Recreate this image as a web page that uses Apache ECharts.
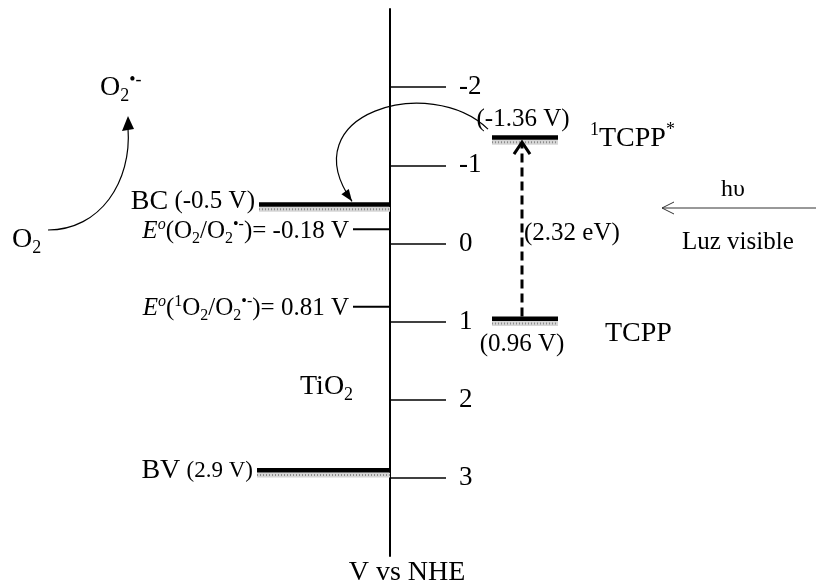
<!DOCTYPE html>
<html><head><meta charset="utf-8">
<script src="https://cdn.jsdelivr.net/npm/echarts@6/dist/echarts.min.js"></script>
<style>html,body{margin:0;padding:0;background:#fff}#c{width:816px;height:587px}</style>
</head><body><div id="c"></div>
<script>
// ---- data ----
const tickValues = [-2, -1, 0, 1, 2, 3];
const levelNames = ['BC', 'E°(O2/O2•-)', 'E°(1O2/O2•-)', 'BV', '1TCPP*', 'TCPP'];
const levelValues = [-0.5, -0.18, 0.81, 2.9, -1.36, 0.96];
const axisTitle = 'V vs NHE';
const lightLabel = ['hυ', 'Luz visible'];
const FF = 'Liberation Serif';

// ---- layout (pixels relative to the axis line; not data) ----
const levelLayout = [
  {x0: -131, x1: 0, thick: true},
  {x0: -37, x1: 0, thick: false},
  {x0: -37, x1: 0, thick: false},
  {x0: -133, x1: 0, thick: true},
  {x0: 102, x1: 168, thick: true},
  {x0: 102, x1: 168, thick: true}
];

function richSet() {
  return {
    b: {fontFamily: FF, fontSize: 28, lineHeight: 34, fill: '#000'},
    m: {fontFamily: FF, fontSize: 25, lineHeight: 30, fill: '#000'},
    s: {fontFamily: FF, fontSize: 23, lineHeight: 30, fill: '#000'},
    i: {fontFamily: FF, fontSize: 25, lineHeight: 30, fontStyle: 'italic', fill: '#000'},
    sub: {fontFamily: FF, fontSize: 16, lineHeight: 16, verticalAlign: 'bottom', fill: '#000'},
    sup: {fontFamily: FF, fontSize: 16, lineHeight: 16, verticalAlign: 'top', fill: '#000'},
    isup: {fontFamily: FF, fontSize: 16, lineHeight: 16, verticalAlign: 'top', fontStyle: 'italic', fill: '#000'},
    bsub: {fontFamily: FF, fontSize: 18, lineHeight: 18, verticalAlign: 'bottom', fill: '#000'},
    bsup: {fontFamily: FF, fontSize: 18, lineHeight: 18, verticalAlign: 'top', fill: '#000'}
  };
}
const RICH = richSet();

function txt(text, x, y, align, vAlign) {
  return {type: 'text', style: {text: text, rich: RICH, x: x, y: y, align: align, verticalAlign: vAlign || 'middle',
    textAlign: align, textVerticalAlign: vAlign || 'middle', fill: '#000', font: '25px ' + FF}};
}

function levelItem(params, api) {
  const i = api.value(2);
  const v = api.value(1);
  const L = levelLayout[i];
  const p0 = api.coord([L.x0, v]);
  const p1 = api.coord([L.x1, v]);
  const y = p0[1];
  const w = p1[0] - p0[0];
  const ch = [];
  if (L.thick) {
    ch.push({type: 'rect', shape: {x: p0[0], y: y + 2.5, width: w, height: 5}, style: {fill: '#d6d6d6'}});
    ch.push({type: 'line', shape: {x1: p0[0], y1: y + 5, x2: p1[0], y2: y + 5}, style: {stroke: '#8c8c8c', lineWidth: 2, lineDash: [1, 2]}});
    ch.push({type: 'rect', shape: {x: p0[0], y: y - 2, width: w, height: 4.5}, style: {fill: '#000'}});
  } else {
    ch.push({type: 'line', shape: {x1: p0[0], y1: y, x2: p1[0], y2: y}, style: {stroke: '#000', lineWidth: 2}});
  }
  const vs = String(levelValues[i]);
  const mid = (p0[0] + p1[0]) / 2;
  if (i === 0) {
    ch.push(txt('{b|BC} {m|(' + vs + ' V)}', p0[0] - 4, y - 3, 'right'));
  } else if (i === 1) {
    ch.push(txt('{i|E}{isup|o}{m|(O}{sub|2}{m|/O}{sub|2}{sup|•-}{m|)= ' + vs + ' V}', p0[0] - 4, y + 2, 'right'));
  } else if (i === 2) {
    ch.push(txt('{i|E}{isup|o}{m|(}{sup|1}{m|O}{sub|2}{m|/O}{sub|2}{sup|•-}{m|)= ' + vs + ' V}', p0[0] - 4, y + 2, 'right'));
  } else if (i === 3) {
    ch.push(txt('{b|BV} {s|(' + vs + ' V)}', p0[0] - 4, y + 1, 'right'));
  } else if (i === 4) {
    ch.push(txt('{m|(' + vs + ' V)}', mid - 2, y - 18, 'center'));
    ch.push(txt('{bsup|1}{b|TCPP}{bsup|*}', p1[0] + 32, y + 1, 'left'));
  } else if (i === 5) {
    ch.push(txt('{m|(' + vs + ' V)}', mid - 3, y + 26, 'center'));
    ch.push(txt('{b|TCPP}', p1[0] + 47, y + 15, 'left'));
  }
  return {type: 'group', children: ch};
}

function transitionItem(params, api) {
  const yS = api.coord([0, levelValues[4]])[1];
  const yT = api.coord([0, levelValues[5]])[1];
  const yB = api.coord([0, levelValues[0]])[1];
  const ax = api.coord([0, 0])[0];
  const xd = api.coord([132, 0])[0];
  const ch = [];
  // dashed excitation arrow
  ch.push({type: 'line', shape: {x1: xd, y1: yT - 2, x2: xd, y2: yS + 6}, style: {stroke: '#000', lineWidth: 3, lineDash: [9, 5]}});
  ch.push({type: 'polyline', shape: {points: [[xd - 8, yS + 17], [xd, yS + 5], [xd + 8, yS + 17]]}, style: {stroke: '#000', lineWidth: 3, fill: 'none'}});
  const gap = (levelValues[5] - levelValues[4]).toFixed(2);
  ch.push(txt('{m|(' + gap + ' eV)}', xd + 2, (yS + yT) / 2 + 6, 'left'));
  // curved electron transfer arrow TCPP* -> BC
  const P0 = [ax + 98, yS - 8], P1 = [ax + 40, yS - 64], P2 = [ax - 100, yS - 24], P3 = [ax - 38, yB - 3];
  ch.push({type: 'bezierCurve', shape: {x1: P0[0], y1: P0[1], cpx1: P1[0], cpy1: P1[1], cpx2: P2[0], cpy2: P2[1], x2: P3[0], y2: P3[1]},
    style: {stroke: '#000', lineWidth: 1.2, fill: 'none'}});
  let dx = P3[0] - P2[0], dy = P3[1] - P2[1];
  const n = Math.hypot(dx, dy); dx /= n; dy /= n;
  const bx = P3[0] - 12 * dx, by = P3[1] - 12 * dy;
  ch.push({type: 'polygon', shape: {points: [[P3[0], P3[1]], [bx - 4.5 * dy, by + 4.5 * dx], [bx + 4.5 * dy, by - 4.5 * dx]]}, style: {fill: '#000'}});
  return {type: 'group', children: ch};
}

const chart = echarts.init(document.getElementById('c'), null, {renderer: 'canvas'});
chart.setOption({
  backgroundColor: '#fff',
  animation: false,
  grid: {left: 390, right: 0, top: 9, bottom: 31, containLabel: false, outerBoundsMode: 'none'},
  xAxis: {type: 'value', min: 0, max: 426, show: false},
  yAxis: {
    type: 'value', inverse: true, min: -3, max: 4, position: 'left',
    axisLine: {show: true, onZero: false, lineStyle: {color: '#000', width: 2}},
    axisTick: {show: true, inside: true, length: 56, customValues: tickValues, lineStyle: {color: '#000', width: 1.6}},
    axisLabel: {show: true, inside: true, margin: 69, customValues: tickValues, color: '#000', fontFamily: FF, fontSize: 27},
    splitLine: {show: false},
    name: axisTitle, nameLocation: 'end', nameGap: 3,
    nameTextStyle: {fontFamily: FF, fontSize: 28, color: '#000', padding: [0, 0, 0, 34]}
  },
  series: [
    {type: 'custom', renderItem: levelItem, data: levelValues.map((v, i) => [0, v, i]), encode: {x: 0, y: 1}, clip: false, silent: true, z: 3},
    {type: 'custom', renderItem: transitionItem, data: [[0, 0]], encode: {x: 0, y: 1}, clip: false, silent: true, z: 4}
  ],
  graphic: [
    {type: 'text', x: 12, y: 240, style: {text: '{b|O}{bsub|2}', rich: RICH, align: 'left', verticalAlign: 'middle', textAlign: 'left', textVerticalAlign: 'middle'}},
    {type: 'text', x: 100, y: 88, style: {text: '{b|O}{bsub|2}{bsup|•-}', rich: RICH, align: 'left', verticalAlign: 'middle', textAlign: 'left', textVerticalAlign: 'middle'}},
    {type: 'text', x: 300, y: 387, style: {text: '{b|TiO}{bsub|2}', rich: RICH, align: 'left', verticalAlign: 'middle', textAlign: 'left', textVerticalAlign: 'middle'}},
    {type: 'text', x: 733, y: 190, style: {text: lightLabel[0], font: '24px ' + FF, fill: '#000', align: 'center', verticalAlign: 'middle', textAlign: 'center', textVerticalAlign: 'middle'}},
    {type: 'text', x: 682, y: 242, style: {text: lightLabel[1], font: '25px ' + FF, fill: '#000', align: 'left', verticalAlign: 'middle', textAlign: 'left', textVerticalAlign: 'middle'}},
    {type: 'line', shape: {x1: 816, y1: 208, x2: 662, y2: 208}, style: {stroke: '#333', lineWidth: 1}},
    {type: 'polyline', shape: {points: [[674, 202], [662, 208], [674, 214]]}, style: {stroke: '#333', lineWidth: 1, fill: 'none'}},
    {type: 'bezierCurve', shape: {x1: 48, y1: 230, cpx1: 100, cpy1: 230, cpx2: 132, cpy2: 182, x2: 128, y2: 128}, style: {stroke: '#000', lineWidth: 1.2, fill: 'none'}},
    {type: 'polygon', shape: {points: [[128, 116], [122, 131], [134, 129]]}, style: {fill: '#000'}}
  ]
});
</script></body></html>
